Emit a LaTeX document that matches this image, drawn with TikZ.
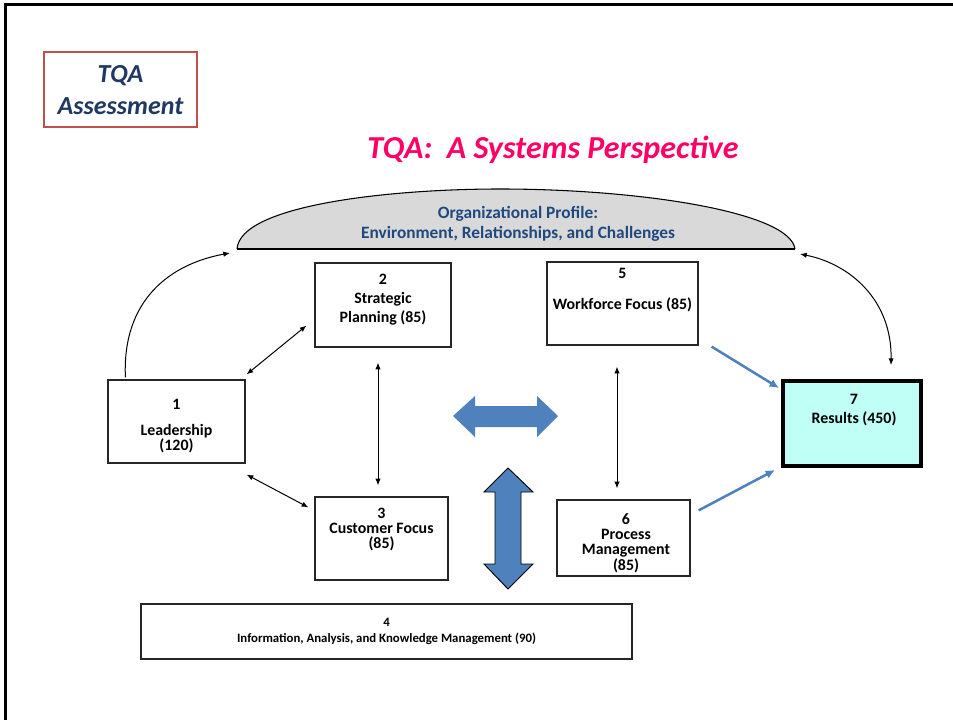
\documentclass[tikz,border=0pt]{standalone}
\usepackage{fontspec}
\setmainfont{Carlito}
\usetikzlibrary{arrows.meta,calc,fit}
\definecolor{tqablue}{HTML}{4F81BD}
\definecolor{navy}{HTML}{1F3864}
\definecolor{profblue}{HTML}{1F497D}
\definecolor{pinkred}{HTML}{FF0066}
\definecolor{redbox}{HTML}{C0504D}
\definecolor{domegray}{HTML}{D9D9D9}
\definecolor{resfill}{RGB}{192,255,246}
\tikzset{
  box/.style={draw=black!85, line width=0.9pt, inner sep=0pt},
  boxtext/.style={align=center, font=\fontsize{11.9}{11.25}\selectfont\bfseries, inner sep=0pt},
  link/.style={black, line width=0.75pt, {Latex[length=5pt,width=4pt]}-{Latex[length=5pt,width=4pt]}},
  onelink/.style={black, line width=0.75pt, -{Latex[length=5pt,width=4pt]}},
  bluelink/.style={tqablue, line width=1.9pt, -{Latex[length=7pt,width=6.5pt]}},
  bigarrow/.style={fill=tqablue},
}
\begin{document}
\begin{tikzpicture}[x=0.75pt,y=-0.75pt]
\useasboundingbox (0,0) rectangle (953,720);
% frame
\draw[line width=2.25pt] (5,725) -- (5,5) -- (958,5);
% TQA assessment
\node[fit={(44,52) (197,127)}, draw=redbox, line width=1.6pt, inner sep=0pt] (tqa) {};
\node[align=center, text=navy, font=\fontsize{19.5}{24}\selectfont\bfseries\itshape, inner sep=0pt] (tqat) at ($(tqa.center)+(0,1)$) {TQA\\Assessment};
% title
\node[text=pinkred, font=\fontsize{24}{28}\selectfont\bfseries\itshape, inner sep=0pt] (title) at (553,150) {TQA:\ \ A Systems Perspective};
% dome
\coordinate (profL) at (237,249);
\coordinate (profR) at (795,249);
\draw[fill=domegray, line width=0.8pt] (profL) .. controls (240,205) and (390,189) .. (500,189) .. controls (640,189) and (790,212) .. (profR);
\draw[line width=1.6pt] (profL) -- (profR);
\node[align=center, text=profblue, font=\fontsize{13}{15}\selectfont\bfseries, inner sep=0pt] (prof) at (518,224) {Organizational Profile:\\Environment, Relationships, and Challenges};
% boxes
\node[box, fit={(108,380) (245,463)}] (b1) {};
\node[box, fit={(315,263) (451,347)}] (b2) {};
\node[box, fit={(315,497) (448,580)}] (b3) {};
\node[box, fit={(141,604) (632,659)}] (b4) {};
\node[box, fit={(547,262) (698,345)}] (b5) {};
\node[box, fit={(557,500) (690,576)}] (b6) {};
\node[draw=black, line width=3pt, fill=resfill, inner sep=0pt, fit={(783,381) (921,466)}] (b7) {};
% texts
\node[boxtext] (t1) at (176.5,426) {1\\[8.25pt]Leadership\\(120)};
\node[boxtext, font=\fontsize{11.9}{14.25}\selectfont\bfseries] (t2) at (383,300) {2\\Strategic\\Planning (85)};
\node[boxtext] (t3) at (381.5,529) {3\\Customer Focus\\(85)};
\node[boxtext, font=\fontsize{9.6}{12}\selectfont\bfseries] (t4) at (386.5,631) {4\\Information, Analysis, and Knowledge Management (90)};
\node[boxtext, font=\fontsize{11.9}{23.25}\selectfont\bfseries] (t5) at (622.5,290) {5\\Workforce Focus (85)};
\node[boxtext, font=\fontsize{11.9}{11.5}\selectfont\bfseries] (t6) at (626,543) {6\\Process\\Management\\(85)};
\node[boxtext, font=\fontsize{11.9}{14.25}\selectfont\bfseries] (t7) at (854,410) {7\\Results (450)};
% connectors
\draw[onelink] ($(b1.north west)+(18,-2)$) .. controls (122,300) and (170,264) .. ($(profL)+(-7,4)$);
\draw[link] ($(profR)+(5,5)$) .. controls (850,264) and (892,300) .. ($(b7.north west)+(110,-14)$);
\draw[link] ($(b1.north east)+(1,-5)$) -- ($(b2.south west)+(-8,-22)$);
\draw[link] ($(b1.south east)+(1,11)$) -- ($(b3.north west)+(-6,11)$);
\draw[link] ($(b2.south)+(-5,15)$) -- ($(b3.north)+(-3.5,-11)$);
\draw[link] ($(b5.south)+(-5.5,21)$) -- ($(b6.north)+(-6.5,-11)$);
\draw[bluelink] ($(b5.south east)+(13,1)$) -- ($(b7.north west)+(-2,9)$);
\draw[bluelink] ($(b6.north east)+(8,11)$) -- ($(b7.south west)+(-6,2)$);
% big double arrows
\path[bigarrow] (453,416) -- (475,396) -- (475,406) -- (537,406) -- (537,396) -- (558,416) -- (537,437) -- (537,427) -- (475,427) -- (475,437) -- cycle;
\draw[bigarrow, draw=black, line width=0.7pt] (508,468) -- (533,492) -- (521,492) -- (521,564) -- (533,564) -- (508,589) -- (484,564) -- (495,564) -- (495,492) -- (484,492) -- cycle;
\end{tikzpicture}
\end{document}
